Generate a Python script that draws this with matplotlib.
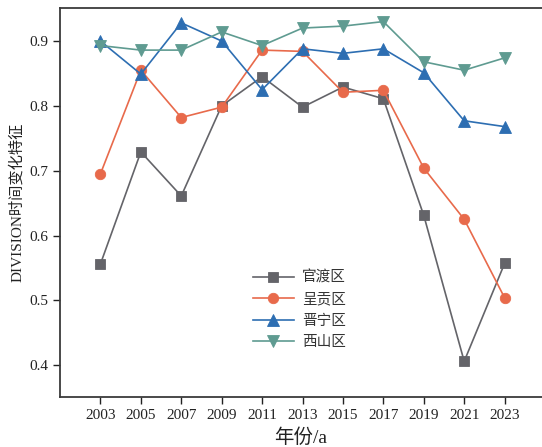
import numpy as np
import matplotlib
matplotlib.use("Agg")
import matplotlib.pyplot as plt

plt.rcParams['font.family'] = ['Liberation Serif', 'Noto Sans CJK SC']
plt.rcParams['axes.unicode_minus'] = False

years = [2003, 2005, 2007, 2009, 2011, 2013, 2015, 2017, 2019, 2021, 2023]

guandu = [0.556, 0.729, 0.661, 0.800, 0.845, 0.798, 0.829, 0.811, 0.631, 0.406, 0.557]
chenggong = [0.695, 0.855, 0.782, 0.798, 0.886, 0.884, 0.821, 0.824, 0.704, 0.625, 0.504]
jinning = [0.900, 0.849, 0.928, 0.900, 0.825, 0.888, 0.881, 0.888, 0.851, 0.777, 0.768]
xishan = [0.893, 0.886, 0.886, 0.914, 0.893, 0.920, 0.923, 0.930, 0.868, 0.855, 0.874]

names = ['官渡区', '呈贡区', '晋宁区', '西山区']
colors = ['#646469', '#e86a4b', '#2d6eb2', '#5f9b91']
markers = ['s', 'o', '^', 'v']
sizes = [6.5, 7.5, 8, 8]

fig = plt.figure(figsize=(5.42, 4.47), dpi=100)
ax = fig.add_axes([0.1107, 0.1119, 0.8893, 0.8703])

for vals, name, c, m, s in zip([guandu, chenggong, jinning, xishan], names, colors, markers, sizes):
    ax.plot(years, vals, color=c, marker=m, markersize=s, linewidth=1.2,
            markeredgecolor=c, markeredgewidth=0.6, label=name)

ax.set_xlim(2001, 2024.85)
ax.set_ylim(0.351, 0.951)
ax.set_xticks(years)
ax.set_yticks([0.4, 0.5, 0.6, 0.7, 0.8, 0.9])
ax.set_yticklabels(['0.4', '0.5', '0.6', '0.7', '0.8', '0.9'])

for side in ['left', 'bottom', 'top']:
    ax.spines[side].set_linewidth(1.3)
    ax.spines[side].set_color('#3a3a3a')
ax.spines['right'].set_visible(False)

ax.tick_params(direction='out', length=5, width=1.0, labelsize=11, colors='#222222',
               top=False, right=False)

ax.set_xlabel('年份/a', fontsize=14, color='#222222', labelpad=5)
ax.set_ylabel('DIVISION时间变化特征', fontsize=11, color='#222222', labelpad=3.5)

leg = ax.legend(loc='upper left', bbox_to_anchor=(0.4, 0.325), frameon=False,
                fontsize=10.5, handlelength=2.8, handletextpad=0.55,
                labelspacing=0.55, borderpad=0, borderaxespad=0)
for t in leg.get_texts():
    t.set_color('#333333')

fig.savefig('out.png', dpi=100)
